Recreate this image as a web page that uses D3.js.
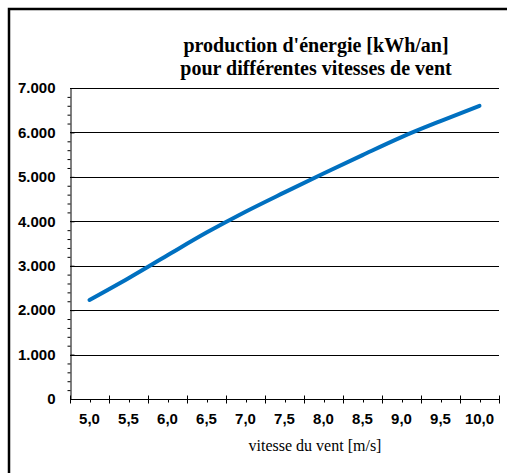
<!DOCTYPE html>
<html>
<head>
<meta charset="utf-8">
<script src="https://cdn.jsdelivr.net/npm/d3@7"></script>
<style>
  body { margin: 0; background: #fff; }
  svg { display: block; }
  .tick-label { font-family: Arial, "Liberation Sans", sans-serif; font-weight: bold; font-size: 15px; fill: #000; }
  .title { font-family: "Times New Roman", "Liberation Serif", serif; font-weight: bold; font-size: 20px; fill: #000; }
  .axis-title { font-family: "Times New Roman", "Liberation Serif", serif; font-size: 16px; fill: #000; }
</style>
</head>
<body>
<svg id="chart" width="507" height="473"></svg>
<script>
// wind speed categories [m/s]
var speeds = ["5,0", "5,5", "6,0", "6,5", "7,0", "7,5", "8,0", "8,5", "9,0", "9,5", "10,0"];
// annual energy production [kWh/an]
var energy = [2230, 2720, 3235, 3745, 4215, 4650, 5075, 5490, 5895, 6255, 6600];
var yTicks = [0, 1000, 2000, 3000, 4000, 5000, 6000, 7000];
var titleLines = ["production d'énergie [kWh/an]", "pour différentes vitesses de vent"];
var xTitle = "vitesse du vent [m/s]";

var svg = d3.select("#chart"),
    MARGINS = { top: 88, right: 8, bottom: 74, left: 70 },
    WIDTH = 507,
    HEIGHT = 473;

var xScale = d3.scaleBand()
    .domain(speeds)
    .range([MARGINS.left, WIDTH - MARGINS.right]);

var yScale = d3.scaleLinear()
    .domain([0, 7000])
    .range([HEIGHT - MARGINS.bottom, MARGINS.top]);

var fmt = function(v) {
  return d3.format(",")(v).replace(/,/g, ".");
};

// outer frame (cut off at right and bottom, as in the original)
svg.append("rect")
    .attr("x", 9).attr("y", 9)
    .attr("width", 600).attr("height", 600)
    .attr("fill", "none")
    .attr("stroke", "#000")
    .attr("stroke-width", 2.5);

// gridlines
svg.append("g")
  .selectAll("line")
  .data(yTicks.slice(1))
  .enter().append("line")
    .attr("x1", MARGINS.left).attr("x2", WIDTH - MARGINS.right)
    .attr("y1", function(d) { return Math.round(yScale(d)) + 0.5; })
    .attr("y2", function(d) { return Math.round(yScale(d)) + 0.5; })
    .attr("stroke", "#000").attr("stroke-width", 1);

// y axis: major ticks crossing, minor ticks outside
var yAxisMajor = d3.axisLeft(yScale).tickValues(yTicks).tickSizeInner(4).tickSizeOuter(0).tickFormat(fmt);
var yg = svg.append("g")
    .attr("transform", "translate(" + (MARGINS.left + 0.5) + ",0)")
    .call(yAxisMajor);
yg.selectAll(".tick line").attr("x2", 4).attr("stroke", "#000");
yg.selectAll(".tick text").attr("class", "tick-label").attr("x", -15).attr("font-family", null).attr("font-size", null);
yg.select(".domain").attr("stroke", "#000");

var yMinor = d3.range(200, 7000, 200).filter(function(v) { return v % 1000 !== 0; });
svg.append("g")
    .attr("transform", "translate(" + (MARGINS.left + 0.5) + ",0)")
    .call(d3.axisLeft(yScale).tickValues(yMinor).tickSize(3).tickFormat(""))
    .call(function(g) { g.select(".domain").remove(); });

// x axis: boundaries as major ticks, category centres as minor ticks
var xBase = Math.round(yScale(0)) + 0.5;
var bounds = speeds.map(function(s) { return xScale(s); }).concat([xScale.range()[1]]);
var xg = svg.append("g");
xg.append("line")
    .attr("x1", MARGINS.left).attr("x2", WIDTH - MARGINS.right)
    .attr("y1", xBase).attr("y2", xBase)
    .attr("stroke", "#000");
xg.selectAll(".major")
  .data(bounds)
  .enter().append("line")
    .attr("x1", function(d) { return Math.round(d) + 0.5; })
    .attr("x2", function(d) { return Math.round(d) + 0.5; })
    .attr("y1", xBase - 4).attr("y2", xBase + 4)
    .attr("stroke", "#000");
xg.selectAll(".minor")
  .data(speeds)
  .enter().append("line")
    .attr("x1", function(d) { return Math.round(xScale(d) + xScale.bandwidth() / 2) + 0.5; })
    .attr("x2", function(d) { return Math.round(xScale(d) + xScale.bandwidth() / 2) + 0.5; })
    .attr("y1", xBase).attr("y2", xBase + 3)
    .attr("stroke", "#000");
xg.selectAll("text")
  .data(speeds)
  .enter().append("text")
    .attr("class", "tick-label")
    .attr("text-anchor", "middle")
    .attr("x", function(d) { return xScale(d) + xScale.bandwidth() / 2; })
    .attr("y", 424)
    .text(function(d) { return d; });

// series line
var lineGen = d3.line()
    .x(function(d, i) { return xScale(speeds[i]) + xScale.bandwidth() / 2; })
    .y(function(d) { return yScale(d); })
    .curve(d3.curveMonotoneX);

svg.append("path")
    .attr("d", lineGen(energy))
    .attr("fill", "none")
    .attr("stroke", "#0070C0")
    .attr("stroke-width", 4)
    .attr("stroke-linecap", "round");

// titles
svg.selectAll(".title")
  .data(titleLines)
  .enter().append("text")
    .attr("class", "title")
    .attr("text-anchor", "middle")
    .attr("x", 316)
    .attr("y", function(d, i) { return 52 + i * 23; })
    .text(function(d) { return d; });

svg.append("text")
    .attr("class", "axis-title")
    .attr("text-anchor", "middle")
    .attr("x", 315)
    .attr("y", 451)
    .text(xTitle);
</script>
</body>
</html>
